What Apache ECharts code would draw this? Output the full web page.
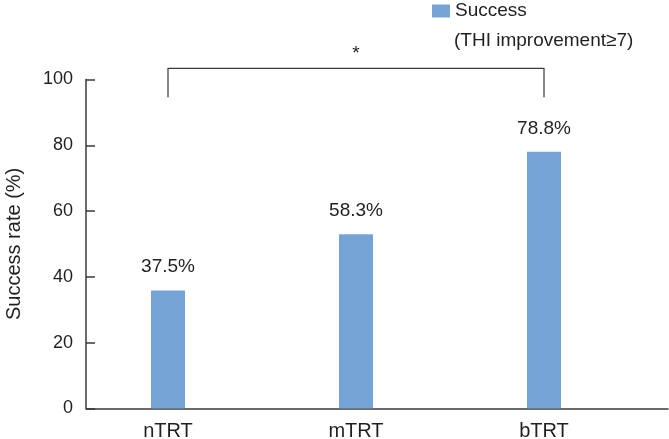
<!DOCTYPE html>
<html>
<head>
<meta charset="utf-8">
<script src="https://cdn.jsdelivr.net/npm/echarts@6/dist/echarts.min.js"></script>
<style>html,body{margin:0;padding:0;background:#fff}#c{width:669px;height:439px}</style>
</head>
<body>
<div id="c"></div>
<script>
var categories = ['nTRT', 'mTRT', 'bTRT'];
var successValues = [35.8, 52.9, 78.0];
var barLabels = ['37.5%', '58.3%', '78.8%'];
var yTicks = [0, 20, 40, 60, 80, 100];
var seriesName = 'Success';
var legendSecondLine = '(THI improvement\u22657)';
var yAxisTitle = 'Success rate (%)';
var sigFrom = 0, sigTo = 2, sigMark = '*';
var bracketTop = 103.4, bracketBottom = 94.6;

(function () {
var FONT = '"Liberation Sans", Arial, Helvetica, sans-serif';
var TXT = '#231f20';
var AX = '#3a3a3a';
var BAR = '#74a3d6';

var chart = echarts.init(document.getElementById('c'), null, {renderer: 'canvas'});
var gTop = 79.5, gBottom = 30.7;
chart.setOption({
  animation: false,
  textStyle: {fontFamily: FONT},
  grid: [
    {left: 86, right: 1, top: gTop, bottom: gBottom, containLabel: false, outerBoundsMode: 'none'},
    {left: 74, width: 564, top: gTop, bottom: gBottom, containLabel: false, outerBoundsMode: 'none'}
  ],
  legend: {
    data: [seriesName], left: 432, top: 0, padding: 0, icon: 'rect',
    itemWidth: 18, itemHeight: 13, itemGap: 6,
    textStyle: {fontSize: 19, color: TXT, lineHeight: 22, fontFamily: FONT}
  },
  xAxis: [
    {gridIndex: 0, type: 'category', data: categories,
     axisLine: {show: true, lineStyle: {color: AX, width: 1.5}},
     axisTick: {show: false}, axisLabel: {show: false}, splitLine: {show: false}},
    {gridIndex: 1, type: 'category', data: categories,
     axisLine: {show: false}, axisTick: {show: false},
     axisLabel: {show: true, margin: 13, fontSize: 20, color: TXT, fontFamily: FONT},
     splitLine: {show: false}}
  ],
  yAxis: [
    {gridIndex: 0, type: 'value', min: yTicks[0], max: yTicks[yTicks.length - 1], interval: 20,
     name: yAxisTitle, nameLocation: 'middle', nameRotate: 90, nameGap: 62,
     nameTextStyle: {fontSize: 20, color: TXT, fontFamily: FONT},
     axisLine: {show: true, lineStyle: {color: AX, width: 1.5}},
     axisTick: {show: true, inside: true, length: 9, lineStyle: {color: AX, width: 1.5}},
     axisLabel: {margin: 13, fontSize: 18, color: TXT, fontFamily: FONT},
     splitLine: {show: false}},
    {gridIndex: 1, type: 'value', min: yTicks[0], max: yTicks[yTicks.length - 1], interval: 20, show: false,
     splitLine: {show: false}}
  ],
  series: [{
    name: seriesName, type: 'bar', xAxisIndex: 1, yAxisIndex: 1,
    data: successValues, barWidth: 34,
    itemStyle: {color: BAR},
    label: {
      show: true, position: 'top', distance: 14, fontSize: 19, color: TXT, fontFamily: FONT,
      formatter: function (p) { return barLabels[p.dataIndex]; }
    }
  }]
});

var pL = chart.convertToPixel({gridIndex: 1}, [sigFrom, bracketTop]);
var pR = chart.convertToPixel({gridIndex: 1}, [sigTo, bracketTop]);
var bL = chart.convertToPixel({gridIndex: 1}, [sigFrom, bracketBottom]);
var bR = chart.convertToPixel({gridIndex: 1}, [sigTo, bracketBottom]);
chart.setOption({
  graphic: [
    {type: 'polyline', silent: true,
     shape: {points: [[pL[0], bL[1]], [pL[0], pL[1]], [pR[0], pR[1]], [pR[0], bR[1]]]},
     style: {stroke: AX, lineWidth: 1.2, fill: null}},
    {type: 'text', silent: true, x: (pL[0] + pR[0]) / 2, y: pL[1] - 24,
     style: {text: sigMark, fontSize: 19, fill: TXT, fontFamily: FONT, align: 'center', verticalAlign: 'top'}},
    {type: 'text', silent: true, x: 454, y: 41,
     style: {text: legendSecondLine, fontSize: 19, fill: TXT, fontFamily: FONT, align: 'left', verticalAlign: 'middle'}}
  ]
});
})();
</script>
</body>
</html>
